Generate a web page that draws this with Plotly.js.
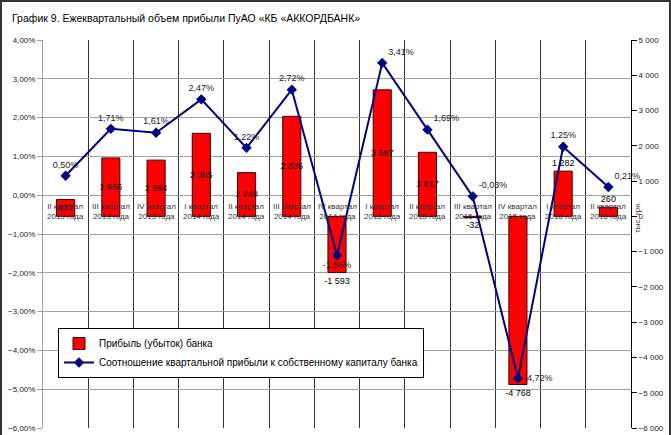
<!DOCTYPE html>
<html><head><meta charset="utf-8">
<script src="https://cdn.plot.ly/plotly-3.0.1.min.js"></script>
<style>
html,body{margin:0;padding:0;background:#fff}
#wrap{position:relative;width:671px;height:435px}
#chart{width:671px;height:435px}
#frame{position:absolute;left:0;top:0;width:667px;height:433px;border:2px solid #333;border-bottom:none;pointer-events:none}
</style>
</head><body><div id="wrap"><div id="chart"></div><div id="frame"></div></div>
<script>
const categories = [
  'II квартал<br>2013 года','III квартал<br>2013 года','IV квартал<br>2013 года',
  'I квартал<br>2014 года','II квартал<br>2014 года','III квартал<br>2014 года','IV квартал<br>2014 года',
  'I квартал<br>2015 года','II квартал<br>2015 года','III квартал<br>2015 года','IV квартал<br>2015 года',
  'I квартал<br>2016 года','II квартал<br>2016 года'
];
const profit = [477, 1656, 1594, 2355, 1240, 2835, -1593, 3587, 1817, -32, -4768, 1282, 260];
const ratioPct = [0.50, 1.71, 1.61, 2.47, 1.22, 2.72, -1.55, 3.41, 1.69, -0.03, -4.72, 1.25, 0.21];
const seriesNames = ['Прибыль (убыток) банка', 'Соотношение квартальной прибыли к собственному капиталу банка'];
const titleText = 'График 9. Ежеквартальный объем прибыли ПуАО «КБ «АККОРДБАНК»';
const unitText = 'тыс. грн.';

const FONT = "'Liberation Sans', Arial, sans-serif";
const barTextPos = ['inside','inside','inside','inside','inside','inside','outside','inside','inside','outside','outside','outside','outside'];
const lineTextPos = ['top center','top center','top center','top center','top center','top center','bottom center','top right','top right','top right','middle right','top center','top right'];

const traces = [
  {
    type: 'bar', name: seriesNames[0], x: categories, y: profit, yaxis: 'y',
    marker: {color: '#FF0000', line: {color: '#3a0000', width: 1}},
    texttemplate: '%{y:,d}', textposition: barTextPos, textangle: 0,
    insidetextanchor: 'middle', constraintext: 'none', cliponaxis: false,
    textfont: {family: FONT, size: 9, color: '#000'},
    hoverinfo: 'skip'
  },
  {
    type: 'scatter', mode: 'lines+markers+text', name: seriesNames[1], x: categories, y: ratioPct, yaxis: 'y2',
    line: {color: '#000080', width: 2},
    marker: {symbol: 'diamond', size: 8, color: '#000080'},
    texttemplate: '%{y:.2f}%', textposition: lineTextPos, cliponaxis: false,
    textfont: {family: FONT, size: 9, color: '#222'},
    hoverinfo: 'skip'
  }
];

const annotations = categories.map(c => ({
  x: c, xref: 'x', y: 0, yref: 'y2', yanchor: 'top', yshift: -5,
  text: c, showarrow: false, font: {family: FONT, size: 8, color: '#333'}
}));
annotations.push({
  xref: 'paper', yref: 'paper', x: 1.022, y: 0.545, text: unitText, textangle: -90,
  showarrow: false, font: {family: FONT, size: 8, color: '#333'}
});

const layout = {
  width: 671, height: 435,
  margin: {l: 43, r: 40, t: 40, b: 7},
  paper_bgcolor: '#fff', plot_bgcolor: '#fff',
  separators: ', ',
  showlegend: true,
  font: {family: FONT, size: 9, color: '#333'},
  title: {text: titleText, x: 12/671, xanchor: 'left', xref: 'container', y: 1 - 18/435, yref: 'container', yanchor: 'middle',
          font: {family: FONT, size: 10.5, color: '#000'}},
  bargap: 0.6,
  xaxis: {type: 'category', showticklabels: false, ticks: '', tickson: 'boundaries', showgrid: true,
          gridcolor: '#333', gridwidth: 1, showline: false, zeroline: false, range: [-0.5, 12.5]},
  yaxis: {side: 'right', range: [-6000, 5000], dtick: 1000, tickformat: ',d', showgrid: false, zeroline: false,
          showline: true, linecolor: '#000', linewidth: 1, ticks: 'outside', ticklen: 5, tickcolor: '#000',
          tickfont: {family: FONT, size: 8, color: '#222'}},
  yaxis2: {side: 'left', overlaying: 'y', range: [-6, 4], dtick: 1, tickformat: '.2f', ticksuffix: '%',
           showgrid: true, gridcolor: '#a0a0a0', gridwidth: 1, zeroline: false,
           showline: true, linecolor: '#a0a0a0', linewidth: 1, ticks: 'outside', ticklen: 5, tickcolor: '#a0a0a0',
           tickfont: {family: FONT, size: 8, color: '#222'}},
  legend: {x: 15/588, y: (428-328)/388, xanchor: 'left', yanchor: 'top', bgcolor: '#fff', bordercolor: '#000', borderwidth: 1,
           font: {family: FONT, size: 10, color: '#000'}, tracegroupgap: 0},
  annotations: annotations
};

Plotly.newPlot('chart', traces, layout, {displayModeBar: false, staticPlot: true});
</script>
</body></html>
